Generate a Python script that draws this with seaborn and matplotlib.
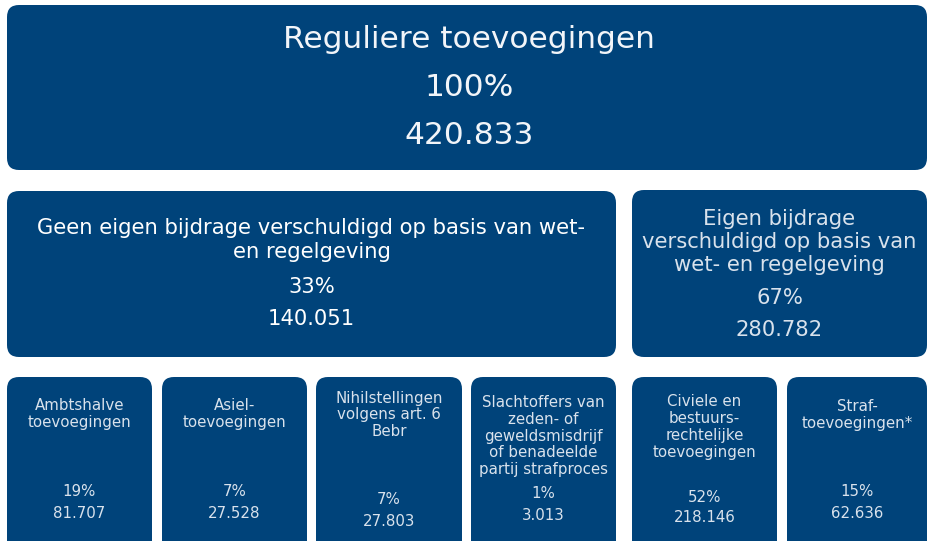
import matplotlib
matplotlib.use("Agg")
import matplotlib.pyplot as plt
from matplotlib.patches import FancyBboxPatch
import seaborn as sns

# ---- data ----
top_label = "Reguliere toevoegingen"
top_pct = "100%"
top_count = "420.833"

mid_labels = ["Geen eigen bijdrage verschuldigd op basis van wet-\nen regelgeving",
              "Eigen bijdrage\nverschuldigd op basis van\nwet- en regelgeving"]
mid_pcts = ["33%", "67%"]
mid_counts = ["140.051", "280.782"]

low_labels = ["Ambtshalve\ntoevoegingen",
              "Asiel-\ntoevoegingen",
              "Nihilstellingen\nvolgens art. 6\nBebr",
              "Slachtoffers van\nzeden- of\ngeweldsmisdrijf\nof benadeelde\npartij strafproces",
              "Civiele en\nbestuurs-\nrechtelijke\ntoevoegingen",
              "Straf-\ntoevoegingen*"]
low_pcts = ["19%", "7%", "7%", "1%", "52%", "15%"]
low_counts = ["81.707", "27.528", "27.803", "3.013", "218.146", "62.636"]

# ---- layout (pixels) ----
W, H = 928, 541
box_color = "#00437a"

sns.set_theme(style="white")
plt.rcParams['font.family'] = ['DejaVu Sans']

fig = plt.figure(figsize=(W / 100, H / 100), dpi=100)
ax = fig.add_axes([0, 0, 1, 1])
ax.set_xlim(0, W)
ax.set_ylim(H, 0)
ax.axis("off")


def box(x0, y0, x1, y1, r=12):
    p = FancyBboxPatch((x0 + r, y0 + r), (x1 - x0) - 2 * r, (y1 - y0) - 2 * r,
                       boxstyle=f"round,pad={r}", linewidth=0,
                       facecolor=box_color)
    ax.add_patch(p)


# top
box(7, 5, 927, 170)
tc = "#f2f5f9"
ax.text(469, 40, top_label, ha="center", va="center", fontsize=22.5, color=tc)
ax.text(469, 88, top_pct, ha="center", va="center", fontsize=22.5, color=tc)
ax.text(469, 136, top_count, ha="center", va="center", fontsize=22.5, color=tc)

# middle
mid_boxes = [(7, 191, 616, 357), (632, 190, 927, 357)]
mid_label_y = [240, 242]
mid_pct_y = [287, 298]
mid_count_y = [319, 330]
mid_colors = ["#ffffff", "#d9e2ec"]
mid_spacing = [1.25, 1.18]
for i, (x0, y0, x1, y1) in enumerate(mid_boxes):
    box(x0, y0, x1, y1)
    cx = (x0 + x1) / 2
    ax.text(cx, mid_label_y[i], mid_labels[i], ha="center", va="center",
            fontsize=15.2, color=mid_colors[i], linespacing=mid_spacing[i])
    ax.text(cx, mid_pct_y[i], mid_pcts[i], ha="center", va="center",
            fontsize=15.2, color=mid_colors[i])
    ax.text(cx, mid_count_y[i], mid_counts[i], ha="center", va="center",
            fontsize=15.2, color=mid_colors[i])

# bottom
low_x = [(7, 152), (162, 307), (316, 462), (471, 616), (632, 777), (787, 927)]
low_label_y = [414, 414, 415, 436, 427, 415]
low_pct_y = [492, 492, 500, 493, 497, 492]
low_count_y = [514, 514, 522, 516, 518, 514]
lc = "#d9e2ec"
for i, (x0, x1) in enumerate(low_x):
    box(x0, 377, x1, 560)
    cx = (x0 + x1) / 2
    ax.text(cx, low_label_y[i], low_labels[i], ha="center", va="center",
            fontsize=10.8, color=lc, linespacing=1.16)
    ax.text(cx, low_pct_y[i], low_pcts[i], ha="center", va="center",
            fontsize=10.8, color=lc)
    ax.text(cx, low_count_y[i], low_counts[i], ha="center", va="center",
            fontsize=10.8, color=lc)

fig.savefig("out.png", dpi=100, facecolor="white")
